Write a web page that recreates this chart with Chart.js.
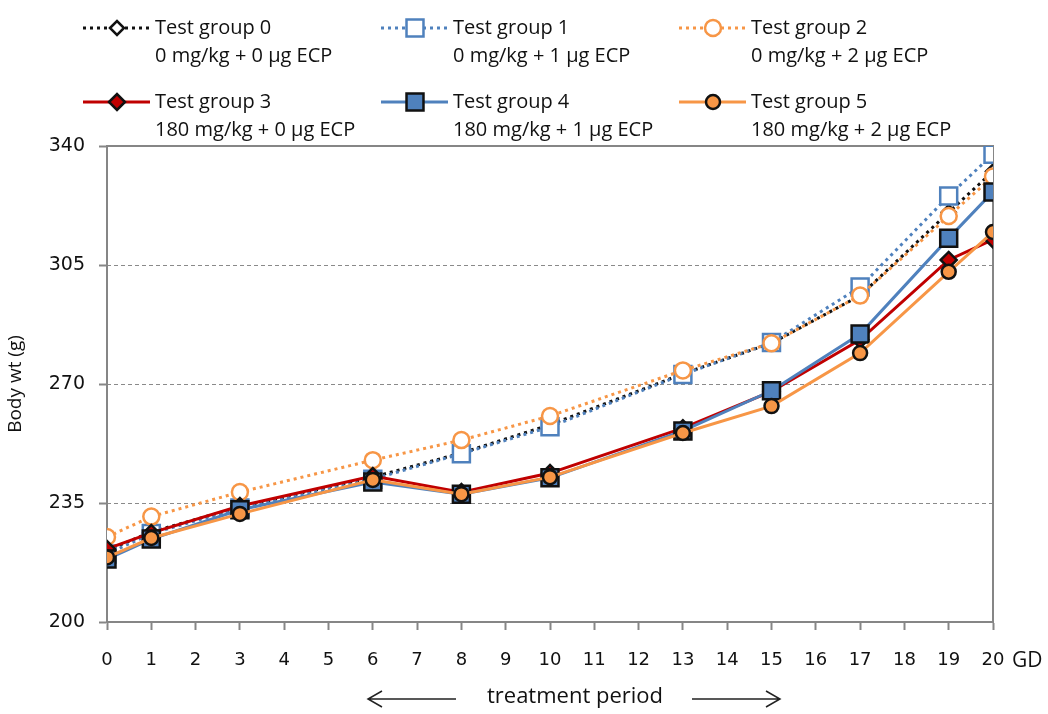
<!DOCTYPE html>
<html>
<head>
<meta charset="utf-8">
<script src="https://cdn.jsdelivr.net/npm/chart.js@4"></script>
<style>
  body { margin: 0; background: #fff; }
  canvas { display: block; }
</style>
</head>
<body>
<canvas id="chart" width="1048" height="714"></canvas>
<script>
const days = [0, 1, 3, 6, 8, 10, 13, 15, 17, 19, 20];
const yTicks = [200, 235, 270, 305, 340];

const groupNames = ['Test group 0', 'Test group 1', 'Test group 2', 'Test group 3', 'Test group 4', 'Test group 5'];
const groupDoses = ['0 mg/kg + 0 µg ECP', '0 mg/kg + 1 µg ECP', '0 mg/kg + 2 µg ECP',
                    '180 mg/kg + 0 µg ECP', '180 mg/kg + 1 µg ECP', '180 mg/kg + 2 µg ECP'];

const group0 = [221, 226.5, 233.8, 242.6, 249.7, 258, 273, 282, 296, 320.5, 332.5];
const group1 = [220, 226, 233.5, 242, 249.5, 257.4, 272.8, 282.2, 298.5, 325.3, 337.6];
const group2 = [225, 231, 238.2, 247.6, 253.5, 260.6, 274, 282, 296, 319.4, 331];
const group3 = [221.5, 226.2, 234.1, 242.9, 238.2, 243.8, 257, 267.8, 283, 306.5, 312.5];
const group4 = [218.5, 224.4, 233, 241.2, 237.6, 242.4, 256.2, 268, 284.7, 312.9, 326.5];
const group5 = [219, 224.7, 231.8, 241.8, 237.6, 242.6, 255.6, 263.5, 279.1, 303, 314.7];

const BLUE = '#4F81BD', ORANGE = '#F79646', RED = '#C00000', BLACK = '#111';
const AXIS = '#868686';
const TEXT_FONT = '"Open Sans", sans-serif';

const styles = [
  { line: BLACK,  dash: [3, 4], shape: 'rectRot', r: 7,  fill: '#fff', edge: BLACK },
  { line: BLUE,   dash: [3, 4], shape: 'rect',    r: 12, fill: '#fff', edge: BLUE },
  { line: ORANGE, dash: [3, 4], shape: 'circle',  r: 8,  fill: '#fff', edge: ORANGE },
  { line: RED,    dash: [],     shape: 'rectRot', r: 8,  fill: RED,    edge: BLACK },
  { line: BLUE,   dash: [],     shape: 'rect',    r: 12, fill: BLUE,   edge: BLACK },
  { line: ORANGE, dash: [],     shape: 'circle',  r: 7,  fill: ORANGE, edge: BLACK }
];

const series = [group0, group1, group2, group3, group4, group5];

const datasets = series.map((vals, i) => ({
  label: groupNames[i],
  data: days.map((d, j) => ({ x: d, y: vals[j] })),
  borderColor: styles[i].line,
  borderWidth: 3,
  borderDash: styles[i].dash,
  pointStyle: styles[i].shape,
  pointRadius: styles[i].r,
  pointHoverRadius: styles[i].r,
  pointBackgroundColor: styles[i].fill,
  pointBorderColor: styles[i].edge,
  pointBorderWidth: 2.5,
  tension: 0,
  order: 5 - i
}));

function marker(ctx, s, x, y) {
  ctx.save();
  ctx.setLineDash([]);
  ctx.fillStyle = s.fill;
  ctx.strokeStyle = s.edge;
  ctx.lineWidth = 2.5;
  ctx.beginPath();
  if (s.shape === 'circle') {
    ctx.arc(x, y, s.r, 0, Math.PI * 2);
  } else if (s.shape === 'rect') {
    const h = s.r * Math.SQRT1_2;
    ctx.rect(x - h, y - h, h * 2, h * 2);
  } else {
    ctx.moveTo(x - s.r, y);
    ctx.lineTo(x, y - s.r);
    ctx.lineTo(x + s.r, y);
    ctx.lineTo(x, y + s.r);
    ctx.closePath();
  }
  ctx.fill();
  ctx.stroke();
  ctx.restore();
}

// grid, frame, legend and extra labels
const extras = {
  id: 'extras',
  beforeDatasetsDraw(chart) {
    const { ctx, chartArea: a, scales } = chart;
    ctx.save();
    ctx.strokeStyle = '#8a8a8a';
    ctx.lineWidth = 1;
    ctx.setLineDash([4, 3]);
    yTicks.slice(1, -1).forEach(v => {
      const y = Math.round(scales.y.getPixelForValue(v)) + 0.5;
      ctx.beginPath();
      ctx.moveTo(a.left, y);
      ctx.lineTo(a.right, y);
      ctx.stroke();
    });
    ctx.setLineDash([]);
    ctx.strokeStyle = AXIS;
    ctx.lineWidth = 2;
    ctx.beginPath();
    ctx.moveTo(a.left, a.top);
    ctx.lineTo(a.right, a.top);
    ctx.lineTo(a.right, a.bottom);
    ctx.stroke();
    ctx.restore();
  },
  afterDraw(chart) {
    const { ctx, chartArea: a } = chart;
    ctx.save();
    const colX = [83, 381, 679];
    const rowY = [28, 102];
    styles.forEach((s, i) => {
      const x0 = colX[i % 3], y0 = rowY[Math.floor(i / 3)];
      ctx.strokeStyle = s.line;
      ctx.lineWidth = 3;
      ctx.setLineDash(s.dash);
      ctx.beginPath();
      ctx.moveTo(x0, y0);
      ctx.lineTo(x0 + 67, y0);
      ctx.stroke();
      marker(ctx, s, x0 + 34, y0);
      ctx.fillStyle = '#111';
      ctx.font = '20px ' + TEXT_FONT;
      ctx.textBaseline = 'middle';
      ctx.textAlign = 'left';
      ctx.fillText(groupNames[i], x0 + 72, y0);
      ctx.fillText(groupDoses[i], x0 + 72, y0 + 28);
    });

    ctx.font = '21px ' + TEXT_FONT;
    ctx.fillText('GD', a.right + 19, 661);

    ctx.font = '22px ' + TEXT_FONT;
    ctx.textAlign = 'center';
    ctx.fillText('treatment period', 575, 697);
    ctx.strokeStyle = '#222';
    ctx.lineWidth = 1.5;
    ctx.setLineDash([]);
    ctx.beginPath();
    ctx.moveTo(456, 699); ctx.lineTo(368, 699);
    ctx.moveTo(382, 691); ctx.lineTo(368, 699); ctx.lineTo(382, 707);
    ctx.moveTo(692, 699); ctx.lineTo(780, 699);
    ctx.moveTo(766, 691); ctx.lineTo(780, 699); ctx.lineTo(766, 707);
    ctx.stroke();
    ctx.restore();
  }
};

new Chart(document.getElementById('chart'), {
  type: 'line',
  data: { datasets },
  plugins: [extras],
  options: {
    responsive: false,
    animation: false,
    layout: { padding: { top: 146, right: 55, left: 0, bottom: 0 } },
    plugins: {
      legend: { display: false },
      tooltip: { enabled: false }
    },
    scales: {
      x: {
        type: 'linear',
        min: 0,
        max: 20,
        afterFit: s => { s.height = 92; },
        border: { color: AXIS, width: 2 },
        grid: { drawOnChartArea: false, drawTicks: true, tickLength: 8, color: AXIS, tickWidth: 2 },
        ticks: { stepSize: 1, padding: 20, color: '#111', font: { family: 'DejaVu Sans', size: 18 } }
      },
      y: {
        min: 200,
        max: 340,
        afterFit: s => { s.width = 107; },
        afterBuildTicks: s => { s.ticks = yTicks.map(v => ({ value: v })); },
        border: { color: AXIS, width: 2 },
        grid: { drawOnChartArea: false, drawTicks: true, tickLength: 8, color: AXIS, tickWidth: 2 },
        ticks: { padding: 14, color: '#111', font: { family: 'DejaVu Sans', size: 19 } },
        title: { display: true, text: 'Body wt (g)', color: '#111', padding: 4, font: { family: TEXT_FONT, size: 19 } }
      }
    }
  }
});
</script>
</body>
</html>
